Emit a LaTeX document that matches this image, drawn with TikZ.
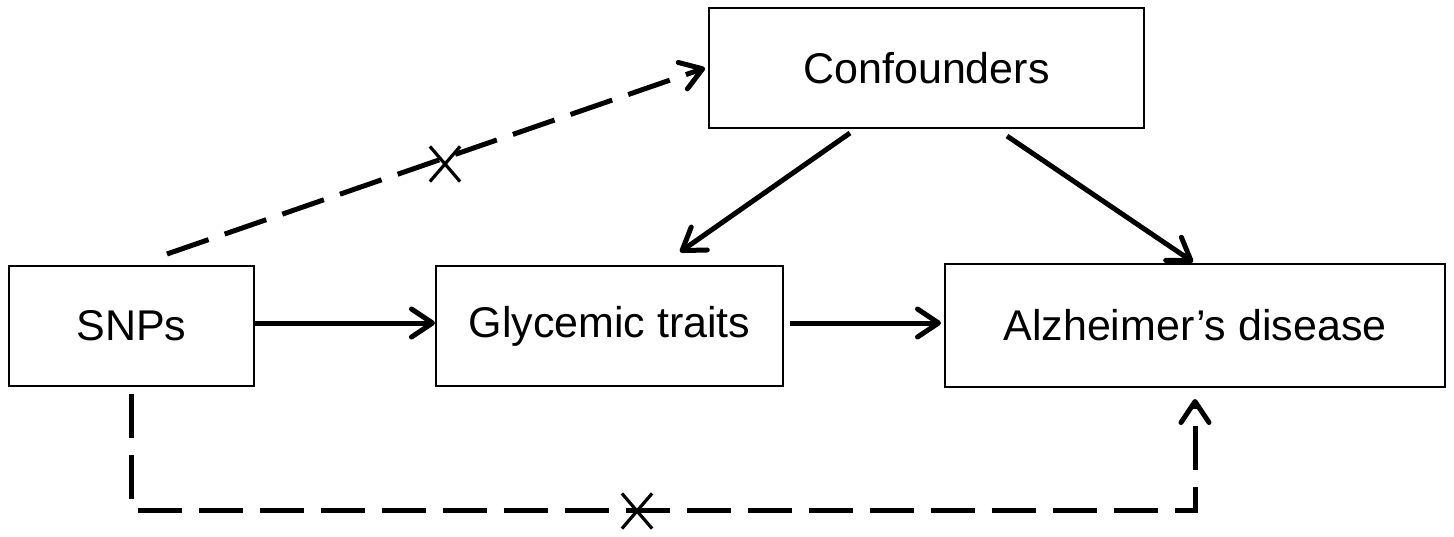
\documentclass[tikz,border=0pt]{standalone}
\usepackage{fontspec}
\setmainfont{Liberation Sans}
\usetikzlibrary{arrows.meta,shapes.misc}
\begin{document}
\begin{tikzpicture}[x=1pt,y=-1pt,
  box/.style={draw=black,line width=2pt,rectangle,inner sep=0pt,
    font=\fontsize{43}{50}\selectfont},
  link/.style={line width=5pt,-{Straight Barb[length=21pt,width=28pt,round]}},
  dline/.style={link,dash pattern=on 44pt off 17pt},
  xmark/.style={cross out,draw=black,line width=3.2pt,inner sep=0pt,
    minimum width=27pt,minimum height=32pt}]
\useasboundingbox (0,0) rectangle (1454,536);
\node[box,minimum width=245pt,minimum height=120pt] (snp) at (131.5,326) {SNPs};
\node[box,minimum width=347pt,minimum height=120pt] (gly) at (609.5,326) {Glycemic traits};
\node[box,minimum width=500pt,minimum height=123pt] (ad) at (1195,325.5) {Alzheimer’s disease};
\node[box,minimum width=435pt,minimum height=120pt] (conf) at (926.5,68) {Confounders};
\coordinate (lowlane) at (0,510);
% solid arrows
\draw[link] ([yshift=3pt]snp.east) -- ([yshift=3pt]gly.west);
\draw[link] ([shift={(6pt,3pt)}]gly.east) -- ([shift={(-3pt,2.5pt)}]ad.west);
\draw[link] ([shift={(-76.5pt,-4pt)}]conf.south) -- ([shift={(70.5pt,13pt)}]gly.north);
\draw[link] ([shift={(80.5pt,-7pt)}]conf.south) -- ([shift={(-2pt,1pt)}]ad.north);
% dashed arrows
\draw[dline] ([shift={(35.5pt,11pt)}]snp.north) -- ([xshift=-3pt]conf.west);
\draw[dline] ([yshift=-7pt]snp.south) -- (snp.south |- lowlane) -| ([yshift=-11pt]ad.south);
% crosses
\node[xmark] (x1) at (445,164) {};
\node[xmark] (x2) at (637,511) {};
\end{tikzpicture}
\end{document}
